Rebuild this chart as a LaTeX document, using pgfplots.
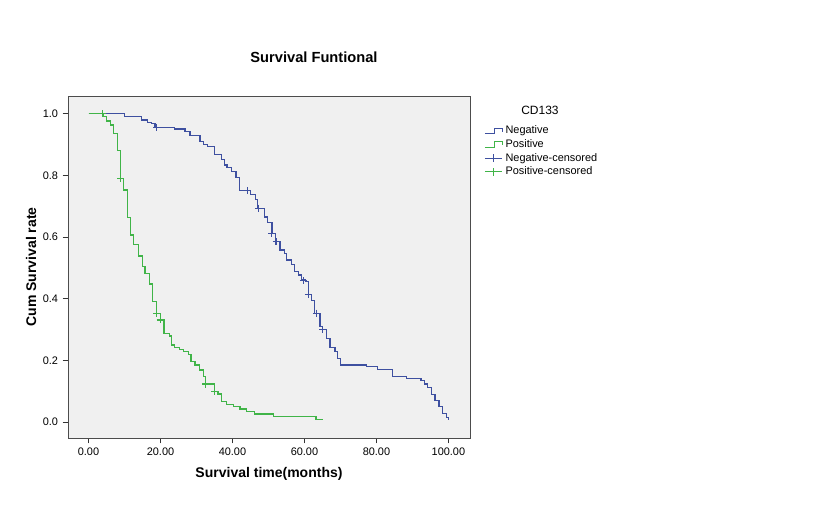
\documentclass[border=0pt]{standalone}
\usepackage{pgfplots}
\pgfplotsset{compat=1.18}
\usepackage{fontspec}
\setmainfont{Liberation Sans}
\definecolor{negc}{RGB}{62,80,160}
\definecolor{posc}{RGB}{64,180,72}
\definecolor{bgc}{RGB}{240,240,240}
\pgfplotsset{
  stepneg/.style={legend image code/.code={\draw[negc,line width=0.9pt] (0pt,-2pt) -- (7pt,-2pt) -- (7pt,2pt) -- (13pt,2pt) -- (13pt,-0.5pt);}},
  steppos/.style={legend image code/.code={\draw[posc,line width=0.9pt] (0pt,-2pt) -- (7pt,-2pt) -- (7pt,2pt) -- (13pt,2pt) -- (13pt,-0.5pt);}},
  censneg/.style={legend image code/.code={\draw[negc,line width=0.9pt] (0pt,0pt) -- (13pt,0pt); \draw[negc,line width=0.9pt] (6.5pt,-3pt) -- (6.5pt,3pt);}},
  censpos/.style={legend image code/.code={\draw[posc,line width=0.9pt] (0pt,0pt) -- (13pt,0pt); \draw[posc,line width=0.9pt] (6.5pt,-3pt) -- (6.5pt,3pt);}},
}
\begin{document}
\begin{tikzpicture}[x=0.75pt,y=0.75pt]
\useasboundingbox (0,0) rectangle (840,525);
\node[font=\bfseries\fontsize{11}{13}\selectfont] at (314,525-57) {Survival Funtional};
\begin{axis}[
  at={(68*0.75pt,87*0.75pt)}, anchor=south west,
  width=301.5pt, height=256.5pt, scale only axis,
  xmin=-5.7, xmax=106, ymin=-0.052, ymax=1.058,
  axis background/.style={fill=bgc},
  axis line style={black!70, line width=0.7pt},
  tick align=outside, xtick pos=bottom, ytick pos=left,
  major tick length=4pt,
  tick style={black!80, line width=0.7pt},
  xtick={0,20,40,60,80,100},
  xticklabels={0.00,20.00,40.00,60.00,80.00,100.00},
  ytick={0,0.2,0.4,0.6,0.8,1.0},
  yticklabels={0.0,0.2,0.4,0.6,0.8,1.0},
  /pgf/number format/assume math mode=true,
  ticklabel style={font=\fontsize{8.2}{10}\selectfont},
  xlabel={Survival time(months)},
  ylabel={Cum Survival rate},
  label style={font=\bfseries\fontsize{10.5}{12}\selectfont},
  xlabel style={yshift=-2pt},
  ylabel style={yshift=-2pt},
  legend style={at={(1.035,0.921)}, anchor=north west, draw=none, fill=none,
    font=\fontsize{8.2}{10}\selectfont, row sep=-1.2pt, inner sep=0pt},
  legend cell align=left,
]
\addplot[const plot, negc, line width=0.9pt, forget plot] coordinates {
(0,1.0) (9.9,0.991) (14.8,0.980) (16.5,0.973) (17.5,0.970) (18.5,0.957)
(24,0.951) (26.8,0.943) (28.2,0.930) (31,0.910) (32,0.901) (33,0.894)
(34.9,0.867) (37,0.851) (37.8,0.834) (38.5,0.826) (39.8,0.813) (41,0.794)
(42,0.751) (44.9,0.737) (46.3,0.721) (47,0.694) (49,0.665) (49.8,0.647)
(51,0.613) (52,0.585) (53.2,0.558) (54.5,0.548) (55,0.526) (56.4,0.510)
(57.2,0.488) (58.3,0.477) (59.2,0.463) (60.3,0.456) (61.1,0.415) (62,0.394)
(62.9,0.353) (64.3,0.309) (65.0,0.301) (66.2,0.272) (67.1,0.242) (68.5,0.228)
(69.1,0.207) (70.1,0.185) (77.3,0.180) (80.2,0.171) (84.5,0.147) (88.4,0.142)
(92.4,0.134) (93.3,0.123) (94.2,0.111) (95.3,0.088) (96.3,0.071) (97.4,0.050)
(98.4,0.028) (99.5,0.015) (100,0.005) (100,0.005)
};
\addplot[const plot, posc, line width=0.9pt, forget plot] coordinates {
(0,1.0) (4.1,0.991) (5.0,0.977) (6.0,0.964) (6.9,0.937) (8.0,0.881)
(8.9,0.791) (9.7,0.753) (10.9,0.663) (11.7,0.607) (12.6,0.575) (13.8,0.539)
(15.1,0.504) (15.7,0.483) (16.9,0.448) (17.8,0.391) (18.9,0.353) (19.9,0.331)
(21,0.288) (22.6,0.279) (23,0.250) (24,0.242) (25.2,0.236) (26.3,0.230)
(27.7,0.218) (28.5,0.196) (29.6,0.185) (30.8,0.169) (31.9,0.147) (32.4,0.123)
(34.9,0.098) (36,0.091) (37,0.066) (38.4,0.057) (40.2,0.050) (42.1,0.042)
(43.9,0.034) (46.2,0.026) (51.3,0.019) (63.2,0.009) (65.2,0.009)
};
\addplot[only marks, mark=+, mark size=2.6pt, negc, mark options={negc, line width=0.9pt}, forget plot] coordinates {
(18.9,0.957) (44.1,0.751) (47.2,0.694) (50.9,0.613) (52.1,0.585)
(59.7,0.459) (61.1,0.415) (63.3,0.353) (65.1,0.301)
};
\addplot[only marks, mark=+, mark size=2.6pt, posc, mark options={posc, line width=0.9pt}, forget plot] coordinates {
(3.9,1.0) (8.9,0.791) (18.9,0.353) (19.9,0.331) (32.6,0.123) (35.0,0.098)
};
\addlegendimage{stepneg}
\addlegendentry{Negative}
\addlegendimage{steppos}
\addlegendentry{Positive}
\addlegendimage{censneg}
\addlegendentry{Negative-censored}
\addlegendimage{censpos}
\addlegendentry{Positive-censored}
\end{axis}
\node[font=\fontsize{9}{11}\selectfont] at (540,525-110) {CD133};
\end{tikzpicture}
\end{document}
